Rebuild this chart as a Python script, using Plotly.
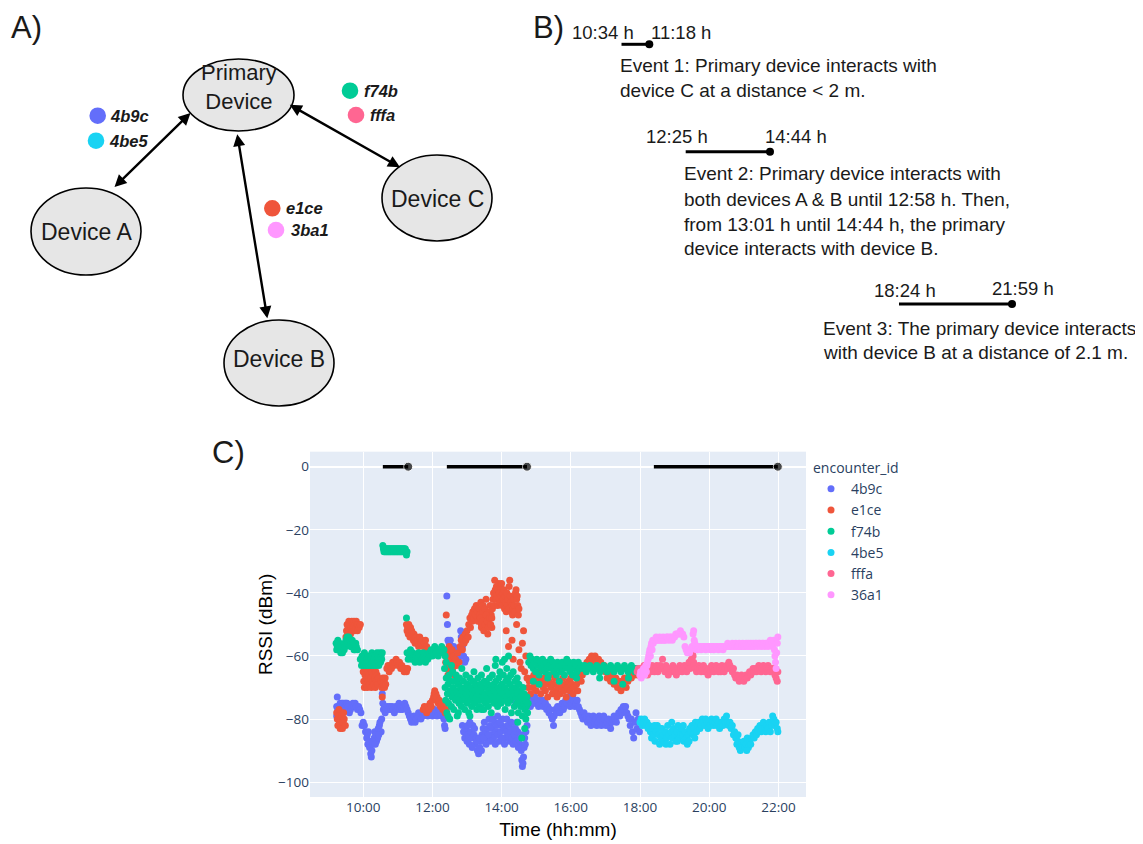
import plotly.graph_objects as go

# window is 1143x844 but the page body has an 8px margin
W, H = 1135, 836
OFF = 8
DAY = "2021-06-01 "

# ---------------- data ----------------
series_names = ["4b9c", "e1ce", "f74b", "4be5", "fffa", "36a1"]
series_colors = ["#636efa", "#EF553B", "#00cc96", "#19d3f3", "#FF6692", "#FF97FF"]

rssi_4b9c = """
9:14 -79, 9:14 -76, 9:15 -73, 9:16 -77, 9:17 -80, 9:18 -78, 9:19 -76, 9:20 -75, 9:21 -77, 9:22 -76,
9:23 -75, 9:24 -76, 9:25 -75, 9:26 -77, 9:27 -76, 9:28 -75, 9:29 -76, 9:30 -75, 9:31 -76, 9:32 -75,
9:33 -77, 9:34 -76, 9:35 -77, 9:36 -78, 9:38 -77, 9:40 -76, 9:42 -75, 9:44 -76, 9:46 -75, 9:48 -76,
9:50 -77, 9:52 -76, 9:54 -77, 9:56 -78, 9:58 -82,
10:00 -81, 10:02 -82, 10:04 -84, 10:06 -86, 10:07 -85, 10:08 -88, 10:10 -87, 10:11 -89, 10:13 -91,
10:14 -92, 10:15 -90, 10:17 -88, 10:19 -86, 10:20 -84, 10:22 -85, 10:23 -87, 10:25 -86, 10:26 -83,
10:28 -82, 10:29 -81, 10:31 -84, 10:32 -80, 10:09 -84, 10:16 -87, 10:21 -88, 10:27 -85,
10:33 -72, 10:34 -75, 10:35 -77, 10:37 -76, 10:38 -78, 10:40 -77, 10:42 -76, 10:44 -77, 10:46 -76,
10:48 -77, 10:50 -76, 10:52 -77, 10:54 -78, 10:56 -76, 10:58 -77, 11:00 -76, 11:02 -75, 11:04 -77,
11:06 -76, 11:08 -77, 11:10 -76, 11:12 -75, 11:14 -76, 11:16 -77, 11:18 -78,
11:20 -79, 11:22 -80, 11:24 -81, 11:26 -80, 11:28 -79, 11:30 -81, 11:32 -80, 11:34 -79, 11:36 -78,
11:38 -79, 11:40 -80, 11:42 -78, 11:44 -79, 11:46 -78, 11:48 -77, 11:50 -78, 11:52 -79, 11:54 -78,
11:56 -77, 11:58 -78, 12:00 -79, 12:02 -78, 12:04 -77, 12:06 -78, 12:08 -79, 12:10 -78, 12:12 -77,
12:14 -78, 12:16 -79, 12:18 -78, 12:20 -80, 12:21 -82, 12:22 -83,
12:25 -41, 12:26 -50, 12:27 -55, 12:29 -56, 12:31 -55, 12:33 -57, 12:35 -58, 12:37 -57, 12:39 -59,
12:41 -58, 12:43 -60, 12:45 -61, 12:47 -59, 12:49 -52, 12:50 -54, 12:52 -57, 12:54 -60, 12:56 -62,
12:58 -61,
12:52 -82, 12:54 -84, 12:56 -86, 12:58 -83, 13:00 -87, 13:02 -85, 13:04 -88, 13:06 -84, 13:08 -86,
13:10 -82, 13:12 -85, 13:14 -88, 13:16 -86, 13:18 -90, 13:20 -91, 13:22 -89, 13:24 -87, 13:26 -85,
13:28 -83, 13:30 -81, 13:32 -84, 13:34 -86, 13:36 -83, 13:38 -80, 13:40 -82, 13:42 -85, 13:44 -83,
13:46 -86, 13:48 -81, 13:50 -84, 13:52 -82, 13:54 -85, 13:56 -87, 13:58 -84, 14:00 -82, 14:02 -80,
14:04 -83, 14:06 -86, 14:08 -84, 14:10 -82, 14:12 -85, 14:14 -87, 14:16 -84, 14:18 -86, 14:20 -88,
14:22 -85, 14:24 -83, 14:26 -81, 14:28 -84, 14:30 -86, 14:32 -88, 14:34 -90, 14:35 -93, 14:36 -95,
14:37 -94, 14:38 -92, 14:39 -89, 14:40 -86, 14:42 -84, 14:44 -82,
13:01 -82, 13:05 -81, 13:09 -89, 13:13 -83, 13:17 -87, 13:21 -86, 13:25 -90, 13:29 -86, 13:33 -88,
13:37 -85, 13:41 -87, 13:45 -80, 13:49 -88, 13:53 -79, 13:57 -81, 14:01 -86, 14:05 -88, 14:09 -80,
14:13 -82, 14:17 -81, 14:21 -83, 14:25 -87, 14:29 -89, 14:33 -85, 14:41 -88, 13:40 -73, 14:20 -74,
14:46 -75, 14:48 -74, 14:50 -76, 14:52 -75, 14:54 -74, 14:56 -75, 14:58 -73, 15:00 -75, 15:02 -74,
15:04 -76, 15:06 -75, 15:08 -74, 15:10 -75, 15:12 -76, 15:14 -74, 15:16 -75, 15:18 -77, 15:20 -76,
15:22 -78, 15:24 -77, 15:26 -79, 15:28 -80, 15:30 -82, 15:31 -79, 15:33 -77, 15:35 -78, 15:37 -76,
15:39 -77, 15:41 -78, 15:43 -76, 15:45 -75, 15:47 -77, 15:49 -76, 15:51 -74, 15:53 -75, 15:55 -73,
15:57 -74, 15:59 -76, 16:01 -75, 16:03 -73, 16:05 -74, 16:07 -76, 16:09 -75, 16:11 -74, 16:13 -76,
16:15 -77, 16:17 -78,
16:19 -79, 16:21 -80, 16:23 -78, 16:25 -79, 16:27 -80, 16:29 -81, 16:31 -79, 16:33 -80, 16:35 -82,
16:37 -80, 16:39 -79, 16:41 -81, 16:43 -80, 16:45 -82, 16:47 -81, 16:49 -79, 16:51 -80, 16:53 -82,
16:55 -81, 16:57 -79, 16:59 -80, 17:01 -82, 17:03 -81, 17:05 -80, 17:07 -82, 17:09 -83, 17:11 -81,
17:13 -80, 17:15 -79, 17:17 -80, 17:19 -81, 17:21 -79, 17:23 -78, 17:25 -79, 17:27 -77, 17:29 -78,
17:31 -76, 17:33 -77, 17:35 -76, 17:37 -78, 17:39 -79, 17:41 -80, 17:43 -82, 17:45 -80, 17:47 -84,
17:49 -86, 17:51 -81, 17:53 -78, 17:55 -83, 17:57 -80, 17:59 -84
"""

rssi_e1ce = """
9:14 -78, 9:15 -80, 9:16 -82, 9:17 -79, 9:18 -77, 9:19 -81, 9:20 -83, 9:21 -80, 9:22 -82, 9:23 -79,
9:24 -83, 9:25 -81, 9:26 -78, 9:27 -80, 9:29 -82,
9:30 -54, 9:31 -52, 9:32 -50, 9:33 -53, 9:34 -51, 9:35 -49, 9:36 -52, 9:37 -50, 9:38 -53, 9:39 -51,
9:40 -49, 9:41 -52, 9:42 -50, 9:43 -51, 9:44 -49, 9:45 -52, 9:46 -50, 9:47 -51, 9:48 -49, 9:49 -50,
9:50 -52, 9:51 -50, 9:53 -51, 9:55 -50,
10:00 -65, 10:01 -68, 10:02 -70, 10:03 -66, 10:04 -64, 10:05 -69, 10:06 -67, 10:07 -70, 10:08 -65,
10:09 -68, 10:10 -66, 10:11 -69, 10:12 -64, 10:13 -67, 10:14 -70, 10:15 -65, 10:16 -68, 10:17 -66,
10:18 -69, 10:19 -64, 10:20 -67, 10:21 -70, 10:22 -65, 10:23 -68, 10:24 -66, 10:25 -69, 10:26 -67,
10:31 -68, 10:32 -70, 10:33 -73, 10:34 -67, 10:35 -69, 10:36 -68, 10:37 -70, 10:38 -67, 10:39 -69,
10:41 -64, 10:43 -63, 10:45 -65, 10:47 -63, 10:49 -64, 10:51 -62, 10:53 -63, 10:55 -62, 10:57 -61,
10:59 -62, 11:01 -63, 11:03 -62, 11:05 -64, 11:07 -63, 11:09 -64, 11:11 -65, 11:13 -64, 11:15 -65,
11:17 -64,
11:15 -50, 11:16 -52, 11:17 -51, 11:18 -53, 11:19 -50, 11:20 -52, 11:21 -54, 11:22 -51, 11:23 -53,
11:24 -52, 11:25 -54, 11:26 -53, 11:27 -55, 11:28 -53, 11:29 -54, 11:30 -56, 11:32 -54, 11:34 -55,
11:36 -57, 11:38 -54, 11:40 -56, 11:42 -55, 11:44 -57, 11:46 -56, 11:48 -55, 11:50 -57, 11:51 -58,
11:44 -77, 11:46 -76, 11:48 -77, 11:50 -78, 11:52 -76, 11:54 -77, 11:56 -75, 11:58 -76, 12:00 -74,
12:02 -73, 12:03 -72, 12:04 -71, 12:05 -73, 12:06 -72, 12:07 -74, 12:08 -73, 12:10 -75, 12:12 -74,
12:14 -76, 12:16 -75, 12:18 -77, 12:20 -76, 12:22 -78, 12:24 -77,
12:24 -47, 12:23 -62, 12:24 -58, 12:25 -64, 12:26 -60, 12:27 -66, 12:28 -61, 12:29 -57, 12:30 -63,
12:31 -59, 12:32 -65, 12:33 -62, 12:34 -58, 12:35 -64, 12:36 -60, 12:37 -62, 12:38 -66, 12:40 -61,
12:42 -63, 12:44 -59, 12:46 -62, 12:48 -57, 12:50 -55, 12:52 -58, 12:53 -54, 12:55 -56, 12:57 -53,
12:58 -55, 13:00 -52, 13:02 -54, 13:03 -50, 13:05 -48, 13:06 -51, 13:08 -47, 13:09 -49, 13:10 -46,
13:12 -48, 13:13 -45, 13:15 -47, 13:16 -44, 13:18 -46, 13:19 -49, 13:21 -45, 13:22 -47, 13:24 -43,
13:25 -50, 13:27 -46, 13:28 -44, 13:30 -48, 13:31 -45, 13:33 -42, 13:34 -47, 13:36 -53, 13:37 -49,
13:39 -46, 13:40 -44, 13:42 -47, 13:43 -51,
13:23 -48, 13:25 -51, 13:27 -49, 13:29 -52, 13:31 -50, 13:33 -47, 13:35 -49, 13:37 -51, 13:39 -48,
13:41 -50, 13:43 -48,
13:44 -45, 13:45 -42, 13:46 -40, 13:47 -44, 13:48 -36, 13:49 -39, 13:50 -42, 13:51 -38, 13:52 -41,
13:53 -44, 13:54 -39, 13:55 -37, 13:56 -40, 13:57 -43, 13:58 -38, 13:59 -41, 14:00 -37, 14:01 -44,
14:02 -40, 14:03 -42, 14:04 -39, 14:05 -45, 14:06 -41, 14:07 -43, 14:08 -46, 14:09 -40, 14:10 -44,
14:11 -42, 14:12 -45, 14:13 -38, 14:14 -36, 14:15 -41, 14:16 -43, 14:17 -46, 14:18 -44, 14:19 -47,
14:20 -45, 14:21 -42, 14:22 -44, 14:23 -46, 14:24 -40, 14:25 -39, 14:26 -42, 14:27 -41, 14:28 -44,
14:29 -47, 14:30 -45,
14:08 -52, 14:12 -57, 14:18 -55, 14:20 -61, 14:26 -50, 14:30 -58, 14:32 -62, 14:34 -64, 14:36 -56,
14:38 -52, 14:40 -65, 14:42 -60, 14:44 -67,
14:46 -70, 14:48 -68, 14:50 -72, 14:52 -67, 14:54 -70, 14:56 -66, 14:58 -69, 15:00 -71, 15:02 -67,
15:04 -65, 15:06 -69, 15:08 -72, 15:10 -68, 15:12 -70, 15:14 -67, 15:16 -71, 15:18 -69, 15:20 -73,
15:22 -68, 15:24 -66, 15:26 -70, 15:28 -72, 15:30 -69, 15:32 -67, 15:34 -71, 15:36 -73, 15:38 -70,
15:40 -68, 15:42 -72, 15:44 -70, 15:46 -67, 15:48 -71, 15:50 -69, 15:52 -73, 15:54 -70, 15:56 -68,
15:58 -71, 16:00 -67, 16:02 -69, 16:04 -72, 16:06 -70, 16:08 -66, 16:10 -69, 16:12 -71, 16:14 -67,
16:16 -65, 16:18 -68, 16:20 -66, 16:22 -64,
16:26 -63, 16:28 -62, 16:30 -63, 16:32 -61, 16:34 -62, 16:36 -60, 16:38 -61, 16:40 -62, 16:42 -60,
16:44 -61, 16:46 -62, 16:48 -61, 16:50 -63, 16:52 -62, 16:54 -63, 16:56 -64, 16:58 -63,
17:00 -65, 17:03 -67, 17:06 -65, 17:09 -68, 17:12 -66, 17:15 -69, 17:18 -67, 17:21 -70, 17:24 -68,
17:27 -71, 17:30 -69, 17:33 -67, 17:36 -70, 17:39 -68, 17:42 -66, 17:45 -67, 17:48 -65, 17:51 -66,
17:54 -64, 17:57 -66
"""

rssi_f74b = """
9:13 -56, 9:14 -58, 9:15 -57, 9:16 -55, 9:17 -57, 9:18 -58, 9:19 -56, 9:20 -57, 9:21 -59, 9:22 -58,
9:23 -57, 9:24 -59, 9:25 -58, 9:26 -57, 9:27 -58, 9:28 -56, 9:29 -57, 9:30 -55, 9:31 -56, 9:32 -54,
9:33 -56, 9:34 -55, 9:35 -54, 9:36 -56, 9:37 -55, 9:38 -57, 9:39 -56, 9:40 -57, 9:41 -55, 9:42 -57,
9:43 -56, 9:44 -58, 9:45 -57, 9:46 -58, 9:47 -56, 9:48 -57, 9:50 -58,
9:55 -61, 9:57 -63, 9:58 -60, 9:59 -62, 10:00 -61, 10:01 -63, 10:02 -59, 10:03 -62, 10:04 -60,
10:05 -63, 10:06 -61, 10:07 -62, 10:08 -60, 10:09 -63, 10:10 -61, 10:11 -62, 10:12 -60, 10:13 -63,
10:14 -61, 10:15 -59, 10:16 -62, 10:17 -60, 10:18 -63, 10:19 -61, 10:20 -62, 10:21 -60, 10:22 -63,
10:23 -61, 10:24 -59, 10:25 -62, 10:26 -60, 10:27 -63, 10:28 -61, 10:29 -59, 10:30 -62, 10:31 -60,
10:32 -61, 10:33 -59,
10:34 -25, 10:35 -26, 10:36 -27, 10:37 -26, 10:38 -27, 10:39 -26, 10:40 -27, 10:41 -26, 10:42 -27,
10:43 -26, 10:44 -27, 10:45 -26, 10:46 -27, 10:47 -26, 10:48 -27, 10:49 -26, 10:50 -27, 10:51 -26,
10:52 -27, 10:53 -26, 10:54 -27, 10:55 -26, 10:56 -27, 10:57 -26, 10:58 -27, 10:59 -26, 11:00 -27,
11:01 -26, 11:02 -27, 11:03 -26, 11:04 -27, 11:05 -26, 11:06 -27, 11:07 -26, 11:08 -27, 11:09 -26,
11:10 -27, 11:11 -26, 11:12 -27, 11:13 -26, 11:14 -27, 11:15 -28, 11:16 -27,
11:15 -48,
11:16 -59, 11:18 -61, 11:20 -60, 11:22 -58, 11:24 -61, 11:26 -59, 11:28 -60, 11:30 -62, 11:32 -60,
11:34 -61, 11:36 -59, 11:38 -62, 11:40 -60, 11:42 -61, 11:44 -59, 11:46 -61, 11:48 -62, 11:50 -60,
11:52 -61, 11:54 -59, 11:56 -60, 11:58 -58, 12:00 -60, 12:02 -59, 12:04 -57, 12:06 -59, 12:08 -58,
12:10 -60, 12:12 -58, 12:14 -59, 12:16 -57, 12:18 -59, 12:20 -58, 12:22 -60, 12:24 -62,
12:21 -64, 12:22 -70, 12:23 -74, 12:24 -67, 12:25 -78, 12:26 -72, 12:27 -69, 12:28 -75, 12:29 -66,
12:30 -80, 12:31 -71, 12:32 -68, 12:33 -76, 12:34 -73, 12:35 -65, 12:36 -70, 12:37 -77, 12:38 -72,
12:39 -68, 12:40 -74, 12:41 -66, 12:42 -71, 12:43 -79, 12:44 -73, 12:45 -69, 12:46 -75, 12:47 -67,
12:48 -72, 12:49 -70, 12:50 -76, 12:51 -64, 12:52 -71, 12:53 -74, 12:54 -68, 12:55 -73, 12:56 -77,
12:57 -70, 12:58 -66, 12:59 -72, 13:00 -75, 13:01 -69, 13:02 -73, 13:03 -78, 13:04 -71, 13:05 -67,
13:06 -74, 13:07 -70, 13:08 -76, 13:09 -72, 13:10 -68, 13:11 -73, 13:12 -65, 13:13 -71, 13:14 -75,
13:15 -69, 13:16 -73, 13:17 -77, 13:18 -70, 13:19 -67, 13:20 -74, 13:21 -72, 13:22 -76, 13:23 -69,
13:24 -71, 13:25 -66, 13:26 -74, 13:27 -70, 13:28 -73, 13:29 -77, 13:30 -68, 13:31 -72, 13:32 -75,
13:33 -70, 13:34 -64, 13:35 -73, 13:36 -69, 13:37 -76, 13:38 -71, 13:39 -67, 13:40 -74, 13:41 -72,
13:42 -78, 13:43 -70, 13:44 -66, 13:45 -73, 13:46 -69, 13:47 -75, 13:48 -71, 13:49 -63, 13:50 -68,
13:51 -74, 13:52 -72, 13:53 -76, 13:54 -70, 13:55 -67, 13:56 -73, 13:57 -65, 13:58 -71, 13:59 -75,
14:00 -69, 14:01 -62, 14:02 -72, 14:03 -66, 14:04 -74, 14:05 -70, 14:06 -77, 14:07 -68, 14:08 -73,
14:09 -64, 14:10 -71, 14:11 -75, 14:12 -67, 14:13 -72, 14:14 -69, 14:15 -74, 14:16 -66, 14:17 -78,
14:18 -70, 14:19 -73, 14:20 -65, 14:21 -71, 14:22 -76, 14:23 -68, 14:24 -73, 14:25 -70, 14:26 -75,
14:27 -67, 14:28 -72, 14:29 -78, 14:30 -69, 14:31 -74, 14:32 -71, 14:33 -76, 14:34 -73, 14:35 -86,
14:36 -79, 14:37 -70, 14:38 -75, 14:39 -72, 14:40 -77, 14:41 -74, 14:42 -80, 14:43 -76, 14:44 -73,
14:45 -78, 14:46 -75,
12:27 -79, 12:33 -63, 12:45 -78, 13:05 -79, 13:25 -77, 13:50 -61, 14:05 -61, 14:12 -60, 14:28 -81,
14:40 -83,
14:47 -62, 14:49 -60, 14:51 -63, 14:53 -61, 14:55 -64, 14:57 -62, 14:59 -65, 15:01 -61, 15:03 -63,
15:05 -66, 15:07 -62, 15:09 -64, 15:11 -61, 15:13 -63, 15:15 -65, 15:17 -62, 15:19 -64, 15:21 -66,
15:23 -63, 15:25 -61, 15:27 -64, 15:29 -62, 15:31 -65, 15:33 -63, 15:35 -66, 15:37 -62, 15:39 -64,
15:41 -63, 15:43 -65, 15:45 -62, 15:47 -64, 15:49 -66, 15:51 -63, 15:53 -61, 15:55 -64, 15:57 -62,
15:59 -65, 16:01 -63, 16:03 -66, 16:05 -62, 16:07 -64, 16:09 -63, 16:11 -65, 16:13 -62, 16:15 -64,
16:18 -63, 16:21 -64, 16:24 -63, 16:27 -65, 16:30 -64, 16:33 -63, 16:36 -64, 16:39 -65, 16:42 -64,
16:45 -63, 16:48 -64, 16:51 -65, 16:54 -64, 16:57 -63, 17:00 -64, 17:03 -65, 17:06 -64, 17:09 -63,
17:12 -64, 17:15 -65, 17:18 -64, 17:21 -63, 17:24 -64, 17:27 -65, 17:30 -64, 17:33 -63, 17:36 -64,
17:39 -65, 17:42 -64, 17:45 -63, 17:48 -64, 17:51 -65, 17:54 -64, 17:57 -64,
14:55 -68, 15:05 -69, 15:20 -67, 15:40 -68, 16:10 -67, 16:50 -67, 17:15 -68, 17:30 -69, 17:40 -67
"""

rssi_4be5 = """
18:00 -81, 18:02 -80, 18:04 -82, 18:06 -81, 18:08 -80, 18:10 -82, 18:12 -81, 18:14 -83, 18:16 -82,
18:18 -84, 18:20 -86, 18:22 -83, 18:24 -85, 18:26 -87, 18:28 -84, 18:30 -82, 18:32 -85, 18:34 -88,
18:36 -86, 18:38 -83, 18:40 -85, 18:42 -87, 18:44 -84, 18:46 -86, 18:48 -82, 18:50 -85, 18:52 -88,
18:54 -84, 18:56 -86, 18:58 -83, 19:00 -85, 19:02 -87, 19:04 -84, 19:06 -82, 19:08 -86, 19:10 -84,
19:12 -83, 19:14 -85, 19:16 -87, 19:18 -84, 19:20 -86, 19:22 -88, 19:24 -85, 19:26 -83, 19:28 -84,
19:30 -82, 19:32 -85, 19:34 -83, 19:36 -81, 19:38 -84, 19:40 -82, 19:42 -81, 19:44 -83, 19:46 -82,
19:48 -80, 19:50 -81, 19:52 -82, 19:54 -80, 19:56 -81, 19:58 -83, 20:00 -81, 20:02 -82, 20:04 -80,
20:06 -81, 20:08 -82, 20:10 -81, 20:12 -80, 20:14 -82, 20:16 -81, 20:18 -83, 20:20 -82, 20:22 -81,
20:24 -82, 20:26 -80, 20:28 -81, 20:30 -79, 20:32 -81, 20:34 -82, 20:36 -81, 20:38 -83, 20:40 -82,
20:42 -85, 20:44 -84, 20:46 -86, 20:48 -88, 20:50 -87, 20:52 -89, 20:54 -90, 20:56 -88, 20:58 -89,
21:00 -87, 21:02 -89, 21:04 -88, 21:06 -86, 21:08 -89, 21:10 -87, 21:12 -88, 21:14 -86, 21:16 -85,
21:18 -86, 21:20 -84, 21:22 -85, 21:24 -83, 21:26 -84, 21:28 -82, 21:30 -84, 21:32 -83, 21:34 -81,
21:36 -83, 21:38 -84, 21:40 -82, 21:42 -83, 21:44 -81, 21:46 -84, 21:48 -82, 21:50 -79, 21:52 -80,
21:54 -82, 21:56 -81, 21:58 -83, 21:59 -84,
18:25 -82, 18:35 -83, 18:45 -88, 18:55 -81, 19:05 -87, 19:15 -82, 19:25 -87, 19:35 -86, 20:50 -85,
21:05 -90
"""

rssi_fffa = """
17:55 -65, 17:57 -64, 17:59 -66, 18:01 -64, 18:03 -65, 18:05 -64, 18:07 -63, 18:09 -65, 18:11 -64,
18:13 -66, 18:15 -65, 18:17 -64, 18:19 -65, 18:21 -63, 18:23 -64, 18:25 -65, 18:27 -64, 18:29 -63,
18:31 -65, 18:33 -64, 18:35 -63, 18:37 -64, 18:39 -61, 18:41 -64, 18:43 -65, 18:45 -63, 18:47 -64,
18:49 -66, 18:51 -65, 18:53 -64, 18:55 -65, 18:57 -63, 18:59 -64, 19:01 -65, 19:03 -66, 19:05 -64,
19:07 -65, 19:09 -63, 19:11 -64, 19:13 -65, 19:15 -64, 19:17 -63, 19:19 -64, 19:21 -65, 19:23 -63,
19:25 -62, 19:27 -64, 19:29 -61, 19:31 -59, 19:32 -60, 19:33 -62, 19:34 -63, 19:36 -64, 19:38 -65,
19:40 -64, 19:42 -63, 19:44 -64, 19:46 -65, 19:48 -64, 19:50 -63, 19:52 -65, 19:54 -64, 19:56 -65,
19:58 -66, 20:00 -64, 20:02 -65, 20:04 -63, 20:06 -64, 20:08 -65, 20:10 -64, 20:12 -63, 20:14 -64,
20:16 -65, 20:18 -64, 20:20 -65, 20:22 -63, 20:24 -64, 20:26 -65, 20:28 -64, 20:30 -63, 20:32 -64,
20:34 -62, 20:36 -63, 20:38 -64, 20:40 -65, 20:42 -64, 20:44 -66, 20:46 -67, 20:48 -66, 20:50 -67,
20:52 -68, 20:54 -67, 20:56 -66, 20:58 -67, 21:00 -68, 21:02 -67, 21:04 -66, 21:06 -67, 21:08 -66,
21:10 -65, 21:12 -66, 21:14 -65, 21:16 -64, 21:18 -65, 21:20 -64, 21:22 -65, 21:24 -64, 21:26 -63,
21:28 -64, 21:30 -65, 21:32 -64, 21:34 -63, 21:36 -64, 21:38 -65, 21:40 -64, 21:42 -63, 21:44 -64,
21:46 -65, 21:48 -64, 21:50 -65, 21:52 -64, 21:54 -66, 21:56 -67, 21:58 -68, 21:59 -65
"""

rssi_36a1 = """
18:00 -66, 18:01 -65, 18:02 -67, 18:03 -66, 18:04 -65, 18:05 -66, 18:06 -64, 18:07 -65, 18:08 -66,
18:09 -64, 18:10 -63, 18:11 -65, 18:12 -63, 18:13 -62, 18:14 -61, 18:15 -60, 18:16 -59, 18:17 -58,
18:18 -60, 18:19 -57, 18:20 -56, 18:21 -58, 18:22 -55, 18:23 -56, 18:24 -55, 18:26 -55, 18:28 -54,
18:30 -55, 18:32 -55, 18:34 -54, 18:36 -55, 18:38 -55, 18:40 -54, 18:42 -55, 18:44 -55, 18:46 -54,
18:48 -54, 18:50 -55, 18:52 -54, 18:54 -54, 18:56 -55, 18:58 -54, 19:00 -54, 19:02 -53, 19:04 -53,
19:06 -53, 19:08 -53, 19:10 -52, 19:12 -53, 19:14 -53, 19:16 -54, 19:18 -57, 19:20 -58, 19:22 -59,
19:24 -58, 19:26 -59, 19:28 -58, 19:30 -57, 19:32 -53, 19:33 -52, 19:34 -55, 19:35 -56, 19:36 -57,
19:38 -58, 19:40 -58, 19:42 -57, 19:44 -57, 19:46 -58, 19:48 -57, 19:50 -57, 19:52 -57, 19:54 -58,
19:56 -57, 19:58 -57, 20:00 -57, 20:02 -58, 20:04 -57, 20:06 -57, 20:08 -58, 20:10 -57, 20:12 -57,
20:14 -57, 20:16 -58, 20:18 -57, 20:20 -57, 20:22 -57, 20:24 -58, 20:26 -57, 20:28 -57, 20:30 -57,
20:32 -56, 20:34 -57, 20:36 -57, 20:38 -57, 20:40 -56, 20:42 -57, 20:44 -57, 20:46 -56, 20:48 -57,
20:50 -57, 20:52 -56, 20:54 -57, 20:56 -57, 20:58 -56, 21:00 -57, 21:02 -57, 21:04 -56, 21:06 -57,
21:08 -56, 21:10 -57, 21:12 -56, 21:14 -57, 21:16 -56, 21:18 -57, 21:20 -56, 21:22 -56, 21:24 -57,
21:26 -56, 21:28 -56, 21:30 -57, 21:32 -56, 21:34 -56, 21:36 -57, 21:38 -56, 21:40 -56, 21:42 -57,
21:44 -56, 21:46 -55, 21:48 -56, 21:50 -57, 21:52 -55, 21:53 -58, 21:54 -60, 21:55 -62, 21:56 -64,
21:57 -59, 21:58 -56, 21:59 -54
"""

event_start = ["10:34", "12:25", "18:24"]
event_end = ["11:18", "14:44", "21:59"]
event_value = [0, 0, 0]

x_tick_hours = ["10:00", "12:00", "14:00", "16:00", "18:00", "20:00", "22:00"]
y_ticks = [0, -20, -40, -60, -80, -100]


def stamp(t):
    h, m = t.split(":")
    return f"{DAY}{int(h):02d}:{m}:00"


def parse(s):
    ts, vs = [], []
    for tok in s.replace("\n", " ").split(","):
        tok = tok.strip()
        if not tok:
            continue
        t, v = tok.split()
        ts.append(stamp(t))
        vs.append(float(v))
    return ts, vs


tables = [rssi_4b9c, rssi_e1ce, rssi_f74b, rssi_4be5, rssi_fffa, rssi_36a1]

fig = go.Figure()
for name, col, tab in zip(series_names, series_colors, tables):
    xs, ys = parse(tab)
    fig.add_trace(go.Scatter(x=xs, y=ys, mode="markers", name=name,
                             marker=dict(color=col, size=7)))

for s, e, v in zip(event_start, event_end, event_value):
    fig.add_trace(go.Scatter(x=[stamp(s), stamp(e)], y=[v, v], mode="lines+markers",
                             line=dict(color="black", width=3.5),
                             marker=dict(color="black", size=[0, 9]),
                             showlegend=False, hoverinfo="skip"))

# ---------------- layout helpers (window pixel -> paper) ----------------
def X(px):
    return (px - OFF) / W


def Y(py):
    return 1 - (py - OFF) / H


TXT = "#1a1a1a"
FONT = "Liberation Sans, Arial, sans-serif"
shapes = []
ann = []


def text(px, py, s, size=19, anchor="left", color=TXT, vanchor="middle"):
    ann.append(dict(x=X(px), y=Y(py), xref="paper", yref="paper", text=s, showarrow=False,
                    xanchor=anchor, yanchor=vanchor, font=dict(family=FONT, size=size, color=color)))


def ellipse(cx, cy, rx, ry):
    shapes.append(dict(type="circle", xref="paper", yref="paper",
                       x0=X(cx - rx), x1=X(cx + rx), y0=Y(cy + ry), y1=Y(cy - ry),
                       fillcolor="#e6e6e6", line=dict(color="black", width=1.6), layer="above"))


def dot(cx, cy, r, color):
    shapes.append(dict(type="circle", xref="paper", yref="paper",
                       x0=X(cx - r), x1=X(cx + r), y0=Y(cy + r), y1=Y(cy - r),
                       fillcolor=color, line=dict(width=0), layer="above"))


def seg(x0, y0, x1, y1, w=3):
    shapes.append(dict(type="line", xref="paper", yref="paper",
                       x0=X(x0), x1=X(x1), y0=Y(y0), y1=Y(y1),
                       line=dict(color="black", width=w), layer="above"))


def double_arrow(x0, y0, x1, y1):
    ann.append(dict(x=X(x1), y=Y(y1), xref="paper", yref="paper",
                    ax=x0 - x1, ay=y0 - y1, axref="pixel", ayref="pixel",
                    text="", showarrow=True, arrowhead=2, startarrowhead=2,
                    arrowside="end+start", arrowsize=1, startarrowsize=1,
                    arrowwidth=2.4, arrowcolor="black"))


# ---------------- panel A ----------------
text(26, 8, "A)", size=31, anchor="center", vanchor="top")
double_arrow(113, 188.5, 190.5, 113)
double_arrow(237, 132.7, 267.3, 318.3)
double_arrow(288.3, 104, 400, 167.3)
ellipse(238.5, 95, 55.5, 36)
ellipse(86, 231.5, 55, 43.5)
ellipse(437, 198, 55, 43)
ellipse(279, 363, 55, 43)
text(238.5, 87, "Primary<br>Device", size=22, anchor="center")
text(86, 232, "Device A", size=23, anchor="center")
text(437, 199, "Device C", size=23, anchor="center")
text(279, 359, "Device B", size=23, anchor="center")

dot_labels = [("4b9c", 97.7, 115.7, 108, 0), ("4be5", 96, 140.7, 107, 3),
              ("f74b", 350, 90.7, 362, 2), ("fffa", 356, 115, 368, 4),
              ("e1ce", 272.3, 208.3, 284, 1), ("3ba1", 276, 230, 289, 5)]
for lab, cx, cy, tx, ci in dot_labels:
    dot(cx, cy, 8.3, series_colors[ci])
    text(tx, cy, f"<b><i>{lab}</i></b>", size=16.5)

# ---------------- panel B ----------------
text(548, 8, "B)", size=31, anchor="center", vanchor="top")
text(570, 32, "10:34 h", size=18.5)
text(649, 32, "11:18 h", size=18.5)
seg(621.5, 44.3, 649.3, 44.3)
dot(649.3, 44.3, 4, "black")
text(618, 66, "Event 1: Primary device interacts with")
text(618, 90, "device C at a distance &lt; 2 m.")

text(644, 137, "12:25 h", size=18.5)
text(763, 137, "14:44 h", size=18.5)
seg(685.7, 151.7, 770, 151.7)
dot(770, 151.7, 4, "black")
text(682, 174, "Event 2: Primary device interacts with")
text(682, 199, "both devices A &amp; B until 12:58 h. Then,")
text(682, 224, "from 13:01 h until 14:44 h, the primary")
text(682, 249, "device interacts with device B.")

text(872, 290, "18:24 h", size=18.5)
text(990, 288, "21:59 h", size=18.5)
seg(899, 304, 1012, 304)
dot(1012, 304, 4, "black")
text(821, 328, "Event 3: The primary device interacts")
text(821, 353, "with device B at a distance of 2.1 m.")

# ---------------- panel C ----------------
text(228, 452, "C)", size=31, anchor="center")

fig.update_layout(
    width=W, height=H, template="plotly",
    margin=dict(l=0, r=0, t=0, b=0),
    paper_bgcolor="white",
    font=dict(family="Open Sans, Verdana, sans-serif", size=13.5),
    shapes=shapes, annotations=ann,
    legend=dict(title=dict(text="encounter_id", font=dict(size=14)), font=dict(size=14),
                x=X(811), y=Y(455), xanchor="left", yanchor="top",
                bgcolor="rgba(0,0,0,0)", tracegroupgap=0),
    xaxis=dict(domain=[X(310), X(806)], type="date",
               range=[DAY + "08:27:42", DAY + "22:47:50"],
               tickvals=[stamp(t) for t in x_tick_hours], ticktext=x_tick_hours,
               title=dict(text="Time (hh:mm)", font=dict(family=FONT, size=19, color="black"), standoff=8)),
    yaxis=dict(domain=[Y(797), Y(451.7)], range=[-104.7, 4.75], tickvals=y_ticks,
               title=dict(text="RSSI (dBm)", font=dict(family=FONT, size=19, color="black"), standoff=0)),
)

fig.write_html("out.html")
